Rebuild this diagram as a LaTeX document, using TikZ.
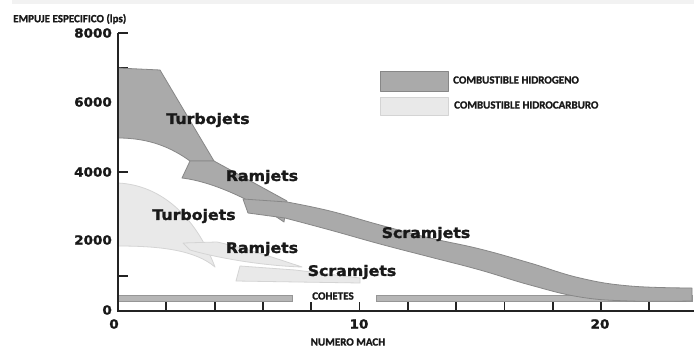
\documentclass[tikz,border=0pt]{standalone}
\usepackage{fontspec}
\newfontfamily\lab[FakeStretch=1.08,FakeBold=1.6]{DejaVu Sans}
\newfontfamily\smf[FakeBold=1.2]{Carlito}
\definecolor{hfill}{RGB}{170,170,170}
\definecolor{hdraw}{RGB}{135,135,135}
\definecolor{cfill}{RGB}{233,233,233}
\definecolor{cdraw}{RGB}{212,212,212}
\definecolor{bfill}{RGB}{182,182,182}
\definecolor{bdraw}{RGB}{150,150,150}
\definecolor{axc}{RGB}{35,35,35}
\definecolor{txt}{RGB}{25,25,25}
\tikzset{
  hshape/.style={fill=hfill,draw=hdraw,line width=0.8pt,line join=round},
  cshape/.style={fill=cfill,draw=cdraw,line width=0.8pt,line join=round},
  bar/.style={fill=bfill,draw=bdraw,line width=0.6pt},
  axis/.style={draw=axc,line width=2pt},
  tickline/.style={draw=axc,line width=1.8pt},
  biglabel/.style={font=\lab\bfseries\fontsize{14.6}{16}\selectfont,text=txt,inner sep=0pt},
  numlabel/.style={font=\lab\bfseries\fontsize{12.5}{14}\selectfont,text=txt,inner sep=0pt},
  smlabel/.style={font=\smf\bfseries\fontsize{11}{13}\selectfont,text=txt,inner sep=0pt}
}
\begin{document}
\begin{tikzpicture}[x=1pt,y=-1pt]
\useasboundingbox (0,0) rectangle (694,348);
\fill[white] (0,0) rectangle (694,348);
\fill[gray!10] (12,0) rectangle (694,4);

% ticks (under the shapes)
\foreach \k in {1,...,8} \draw[tickline] (118,{311-34.75*\k}) -- ++(10,0);
\foreach \k in {1,...,11} \draw[tickline] ({118+48.3*\k},311) -- ++(0,-9);

% cohetes bars
\draw[bar] (118,295) rectangle (292,301);
\draw[bar] (376,295) rectangle (692,301);

% hydrocarbon fuel regions
\draw[cshape] (118,183) .. controls (160,185) and (195,215) .. (215,267)
  .. controls (195,250) and (160,246) .. (118,246) -- cycle;
\draw[cshape] (183,243) -- (217,242) .. controls (245,248) and (275,258) .. (302,267)
  .. controls (270,266) and (225,260) .. (190,250) -- cycle;
\draw[cshape] (240,266) -- (295,270) -- (360,278) -- (360,283) -- (236,281) -- cycle;

% hydrogen fuel regions
\draw[hshape] (118,68) -- (160,70) -- (214,161) -- (190,161)
  .. controls (172,148) and (150,138) .. (118,138) -- cycle;
\draw[hshape] (190,161) -- (214,161) -- (287,201) -- (284,222)
  .. controls (255,202) and (215,182) .. (182,178) -- cycle;
\draw[hshape] (243,199) -- plot[smooth,tension=0.7] coordinates
  {(287,202) (330,211) (380,225) (430,238) (480,249) (530,263) (580,278) (630,286) (692,288)}
  -- plot[smooth,tension=0.7] coordinates
  {(692,301) (630,301) (580,297) (530,285) (480,270) (430,257) (380,244) (330,230) (285,218)}
  -- (248,213) -- cycle;

% axes
\draw[axis] (118,33) -- (118,312);
\draw[axis] (117,311) -- (694,311);
\draw[tickline] (118,33) -- (128,33);

% axis numbers
\node[numlabel,anchor=east] (y8) at (112,33) {8000};
\node[numlabel,anchor=east] (y6) at (112,102) {6000};
\node[numlabel,anchor=east] (y4) at (112,172) {4000};
\node[numlabel,anchor=east] (y2) at (112,240) {2000};
\node[numlabel,anchor=east] (y0) at (112,310) {0};
\node[numlabel] (x0) at (114,324) {0};
\node[numlabel] (x10) at (359,324) {10};
\node[numlabel] (x20) at (600,324) {20};

% axis titles
\node[smlabel,anchor=west] (ytitle) at (13,19) {EMPUJE ESPECIFICO (lps)};
\node[smlabel] (xtitle) at (348,342) {NUMERO MACH};
\node[smlabel] (cohetes) at (333,296) {COHETES};

% region labels
\node[biglabel] (tjh) at (208,120) {Turbojets};
\node[biglabel] (rjh) at (262,177) {Ramjets};
\node[biglabel] (sjh) at (426,234) {Scramjets};
\node[biglabel] (tjc) at (194,216) {Turbojets};
\node[biglabel] (rjc) at (262,249) {Ramjets};
\node[biglabel] (sjc) at (352,272) {Scramjets};

% legend
\draw[hshape] (380,71) rectangle (448,91);
\draw[cshape] (380,97) rectangle (448,115);
\node[smlabel,anchor=west] (legh) at (453,80) {COMBUSTIBLE HIDROGENO};
\node[smlabel,anchor=west] (legc) at (454,105) {COMBUSTIBLE HIDROCARBURO};
\end{tikzpicture}
\end{document}
